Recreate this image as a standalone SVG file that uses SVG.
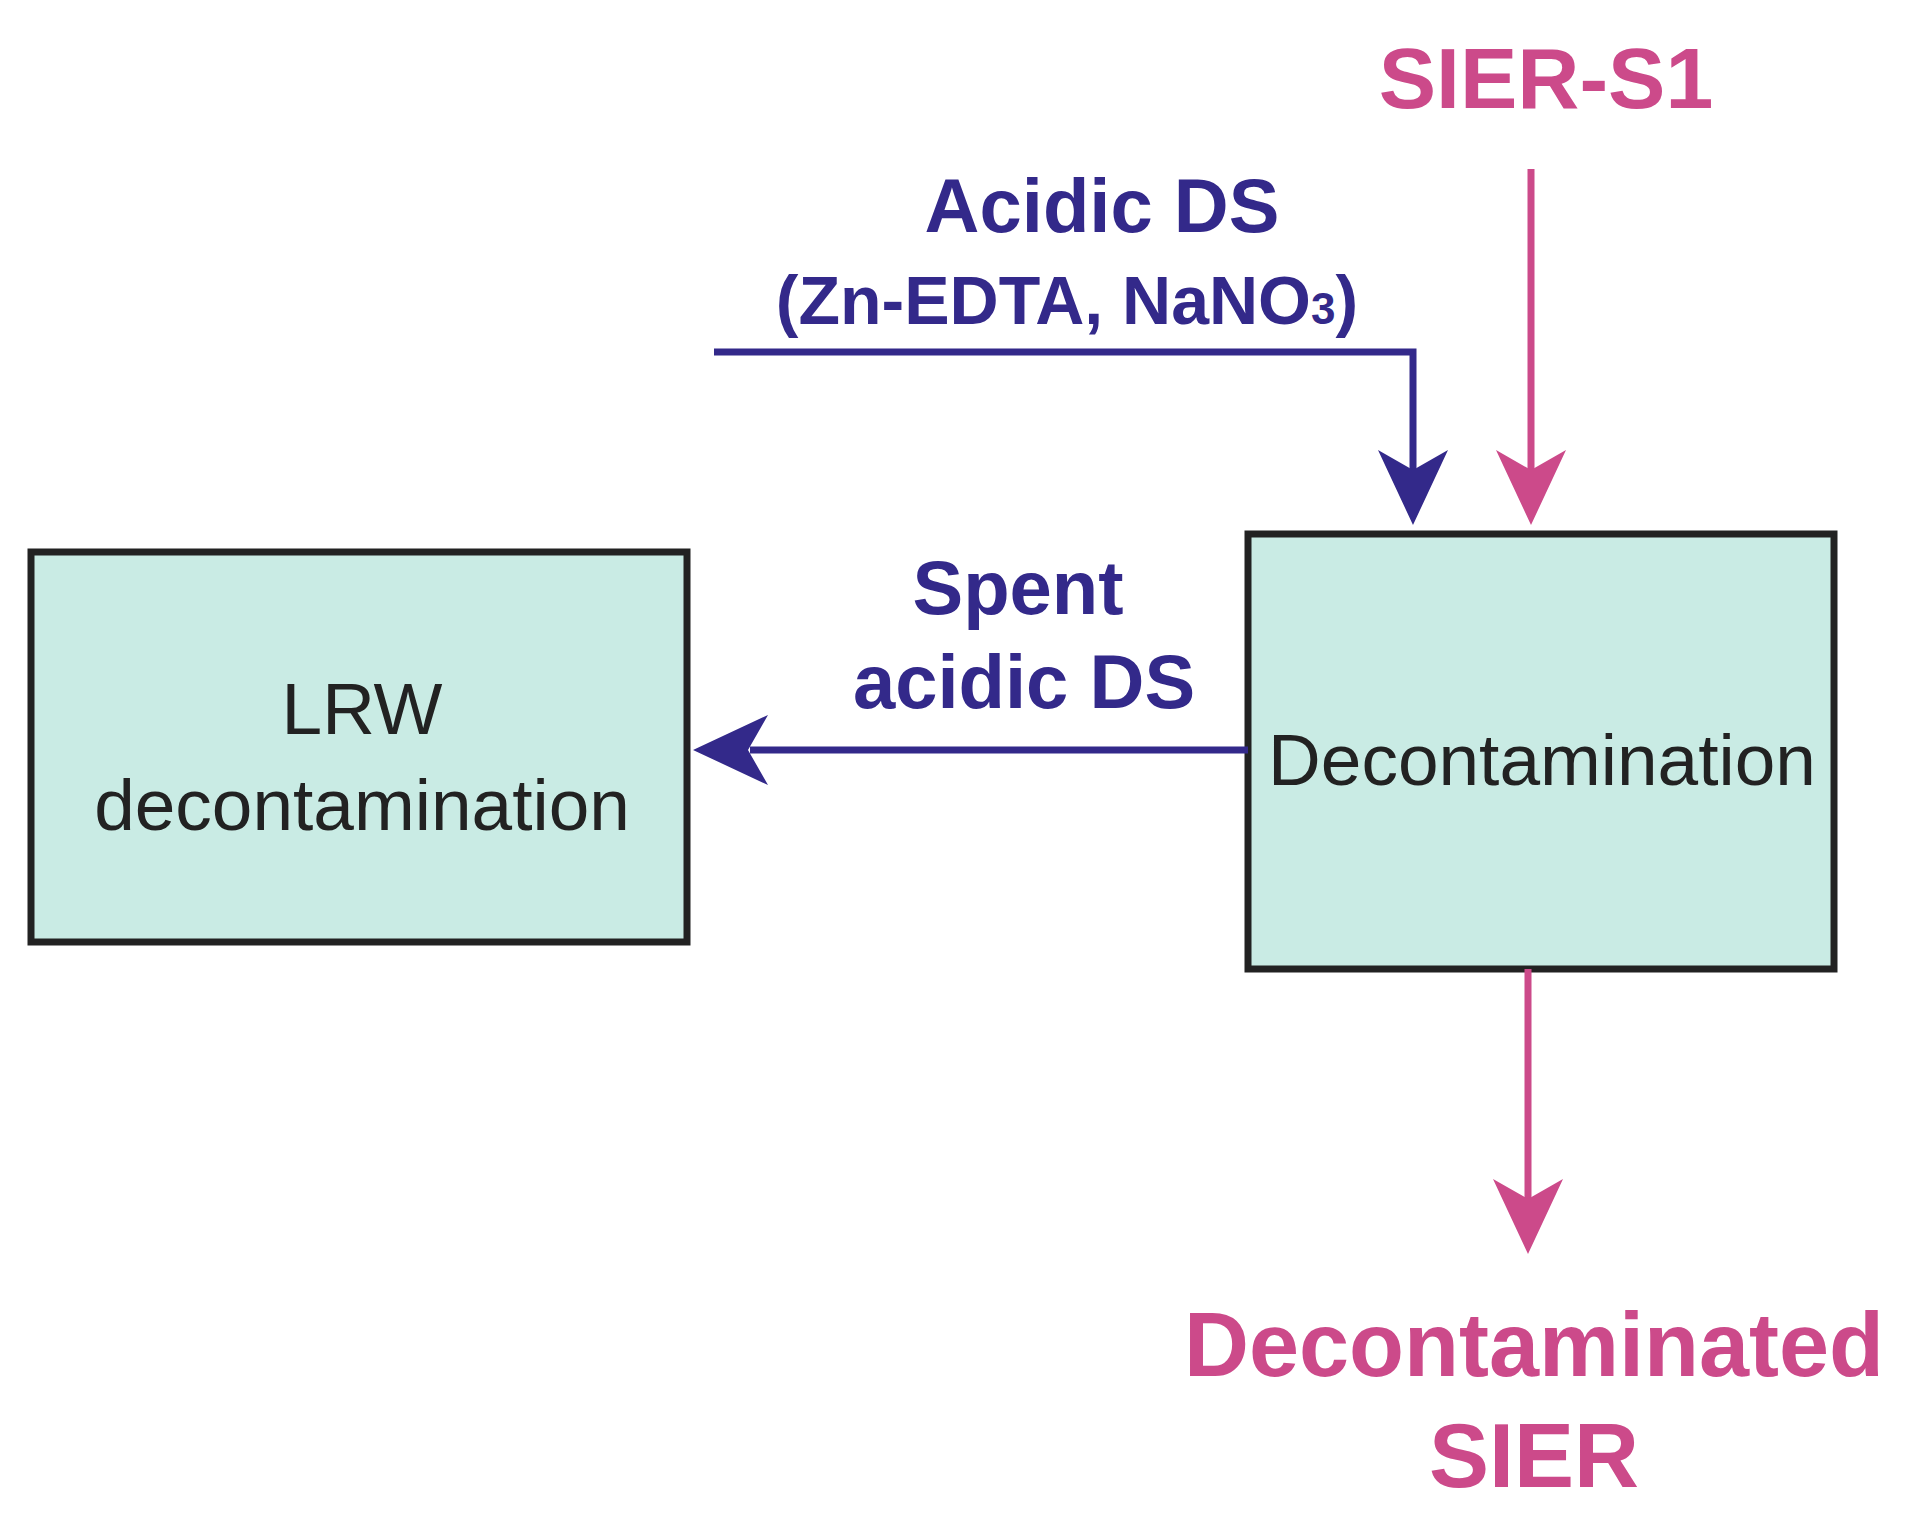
<svg xmlns="http://www.w3.org/2000/svg" width="1914" height="1517" viewBox="0 0 1914 1517">
<style>
.box{fill:#c9ebe4;stroke:#222;stroke-width:7}
.nt{font-family:"Liberation Sans",Arial,sans-serif;font-size:73px;fill:#222;text-anchor:middle}
.b{font-family:"Liberation Sans",Arial,sans-serif;font-weight:bold;text-anchor:middle}
.blue{fill:#33298a}.pink{fill:#cc4a8a}
.lb{stroke:#33298a;stroke-width:7;fill:none}
.lp{stroke:#cc4a8a;stroke-width:7;fill:none}
</style>
<rect width="1914" height="1517" fill="#fff"/>
<g id="lrw">
<rect class="box" x="31" y="552" width="656" height="390"/>
<text class="nt" x="362" y="734">LRW</text>
<text class="nt" x="362" y="830">decontamination</text>
</g>
<g id="decon">
<rect class="box" x="1248" y="534" width="586" height="435"/>
<text class="nt" x="1542" y="785" font-size="70">Decontamination</text>
</g>
<g id="labels">
<text class="b pink" x="1546" y="108" font-size="86">SIER-S1</text>
<text class="b blue" x="1102" y="232" font-size="76">Acidic DS</text>
<text class="b blue" x="1067" y="324" font-size="68">(Zn-EDTA, NaNO<tspan font-size="44">3</tspan>)</text>
<text class="b blue" x="1018" y="614" font-size="76">Spent</text>
<text class="b blue" x="1024" y="708" font-size="76">acidic DS</text>
<text class="b pink" x="1534" y="1376" font-size="90">Decontaminated</text>
<text class="b pink" x="1534" y="1487" font-size="90">SIER</text>
</g>
<g id="connectors">
<path class="lp" d="M1531 169V470"/>
<path class="pink" d="M1531 525L1496 450L1531 470L1566 450Z"/>
<path class="lb" d="M714 352H1413V470"/>
<path class="blue" d="M1413 525L1378 450L1413 470L1448 450Z"/>
<path class="lb" d="M1248 750H750"/>
<path class="blue" d="M693 750L768 715L748 750L768 785Z"/>
<path class="lp" d="M1528 969V1200"/>
<path class="pink" d="M1528 1254L1493 1179L1528 1199L1563 1179Z"/>
</g>
</svg>
